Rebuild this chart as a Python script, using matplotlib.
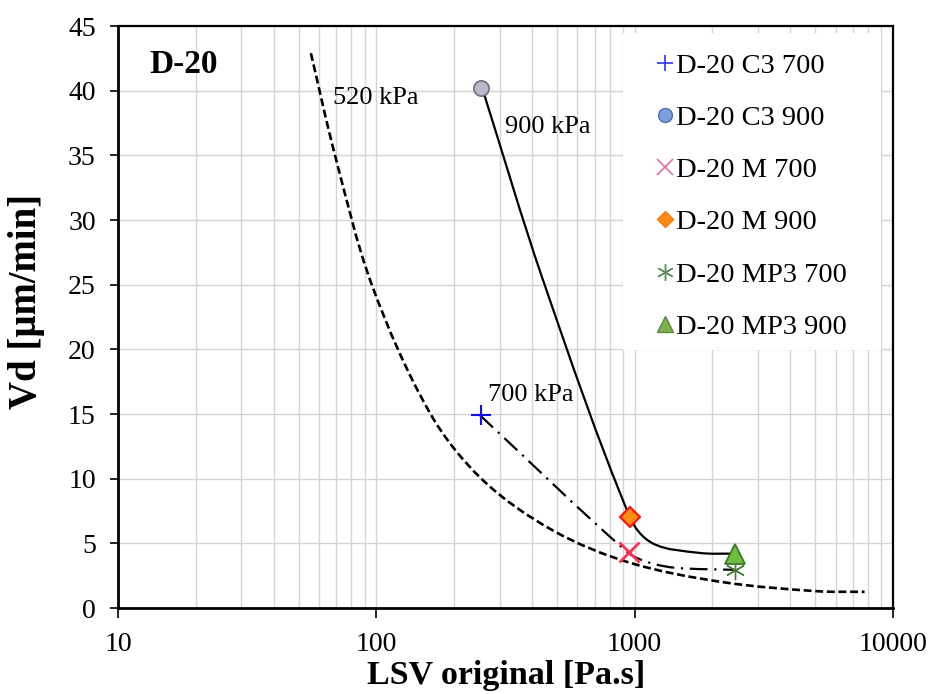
import numpy as np
import matplotlib
matplotlib.use('Agg')
import matplotlib.pyplot as plt
from matplotlib.path import Path
from matplotlib.patches import PathPatch, Rectangle
from matplotlib.lines import Line2D
from matplotlib.ticker import LogLocator, FixedLocator, NullFormatter, FixedFormatter

# ---- data ----
series_labels = ['D-20 C3 700', 'D-20 C3 900', 'D-20 M 700',
                 'D-20 M 900', 'D-20 MP3 700', 'D-20 MP3 900']
series_x = [255, 255, 950, 955, 2450, 2450]
series_y = [14.9, 40.2, 4.3, 7.05, 2.9, 4.2]

# 520 kPa curve
c520_x = [55.8, 69.0, 96.0, 161, 258, 482, 958, 2193, 5070, 7760]
c520_y = [42.9, 35.1, 25.0, 15.1, 9.9, 6.0, 3.5, 2.0, 1.3, 1.25]
# 900 kPa curve
c900_x = [256, 441, 957, 1174, 1784, 2436]
c900_y = [40.3, 25.4, 7.05, 5.0, 4.26, 4.2]
# 700 kPa curve
c700_x = [252, 940, 1143, 1456, 2436]
c700_y = [14.9, 4.3, 3.5, 3.1, 2.95]

x_ticks = [10, 100, 1000, 10000]
x_ticklabels = ['10', '100', '1000', '10000']
y_ticks = [0, 5, 10, 15, 20, 25, 30, 35, 40, 45]

plt.rcParams['font.family'] = ['Liberation Serif', 'DejaVu Serif']

fig = plt.figure(figsize=(9.32, 6.94), dpi=100)
ax = fig.add_axes([118/932, 1-608/694, 775/932, 582/694])
ax.set_xscale('log')
ax.set_xlim(10, 10000)
ax.set_ylim(0, 45)

# approximate screen scale (px per decade, px per unit) used only for smoothing
SX, SY = 258.3, 12.9


def smooth_path(xs, ys):
    """Smoothed line through the points (cubic Bezier, chord-scaled tangents)."""
    P = np.column_stack([np.log10(np.asarray(xs, float)) * SX,
                         np.asarray(ys, float) * SY])
    n = len(P)
    T = []
    for i in range(n):
        a = P[max(i - 1, 0)]
        b = P[min(i + 1, n - 1)]
        d = b - a
        T.append(d / np.linalg.norm(d))
    verts = [P[0]]
    codes = [Path.MOVETO]
    for i in range(n - 1):
        L = np.linalg.norm(P[i + 1] - P[i]) / 3.0
        c1 = P[i] + T[i] * L
        c2 = P[i + 1] - T[i + 1] * L
        verts += [c1, c2, P[i + 1]]
        codes += [Path.CURVE4] * 3
    V = np.array(verts)
    V[:, 0] = 10 ** (V[:, 0] / SX)
    V[:, 1] = V[:, 1] / SY
    return Path(V, codes)


ax.add_patch(PathPatch(smooth_path(c520_x, c520_y), fill=False, edgecolor='black',
                       lw=1.9, linestyle=(0, (3, 1.4)), zorder=3))
ax.add_patch(PathPatch(smooth_path(c900_x, c900_y), fill=False, edgecolor='black',
                       lw=1.6, linestyle='-', zorder=3))
ax.add_patch(PathPatch(smooth_path(c700_x, c700_y), fill=False, edgecolor='black',
                       lw=1.6, linestyle=(0, (8, 3, 1, 3)), zorder=3))

styles = [
    dict(marker='+', color='#1010ff', ms=15, mew=1.5),
    dict(marker='o', mfc='#b8b8cc', mec='#707070', ms=11, mew=1.2),
    dict(marker='x', color='#ff3050', ms=14, mew=2),
    dict(marker='D', mfc='#ff8c10', mec='#ff1010', ms=10, mew=1.5),
    dict(marker=(6, 2, 0), color='#4a7a3a', ms=14, mew=1),
    dict(marker='^', mfc='#6fbf3f', mec='#3a7a2a', ms=14, mew=1.3),
]
for xi, yi, st in zip(series_x, series_y, styles):
    ax.plot([xi], [yi], linestyle='none', zorder=5, **st)

# white background of the legend area (hides the grid as in the original)
ax.add_patch(Rectangle((0.651, 0.443), 0.333, 0.545, transform=ax.transAxes,
                       facecolor='white', edgecolor='none', zorder=1))

leg_styles = [
    dict(marker='+', color='#3030ff', ms=12, mew=1.2),
    dict(marker='o', mfc='#7f9fd8', mec='#4f6fb0', ms=10, mew=1),
    dict(marker='x', color='#e07090', ms=11, mew=1.2),
    dict(marker='D', mfc='#ff8c10', mec='#ff7010', ms=8, mew=1),
    dict(marker=(6, 2, 0), color='#5a8a5a', ms=12, mew=1),
    dict(marker='^', mfc='#7fb050', mec='#5a8a3a', ms=11, mew=1),
]
handles = [Line2D([], [], linestyle='none', **st) for st in leg_styles]
leg = ax.legend(handles, series_labels, loc='upper right', bbox_to_anchor=(0.972, 0.995),
                fontsize=20.5, frameon=False, handlelength=0.7, handletextpad=0.05,
                labelspacing=0.92, borderpad=0.35)
leg.set_zorder(6)

# annotations
ax.text(13.2, 42.0, 'D-20', fontsize=24, fontweight='bold', va='center', ha='left')
ax.text(67.9, 39.4, '520 kPa', fontsize=19, va='center', ha='left')
ax.text(315, 37.2, '900 kPa', fontsize=19, va='center', ha='left')
ax.text(271, 16.5, '700 kPa', fontsize=19, va='center', ha='left')

# axes styling
ax.xaxis.set_major_locator(FixedLocator(x_ticks))
ax.xaxis.set_major_formatter(FixedFormatter(x_ticklabels))
ax.xaxis.set_minor_locator(LogLocator(base=10, subs=np.arange(2, 10), numticks=20))
ax.xaxis.set_minor_formatter(NullFormatter())
ax.yaxis.set_major_locator(FixedLocator(y_ticks))
ax.grid(True, which='major', color='#d4d4d4', lw=1.0, zorder=0)
ax.grid(True, which='minor', axis='x', color='#d4d4d4', lw=1.0, zorder=0)
ax.set_axisbelow(True)
ax.tick_params(axis='x', which='major', direction='out', length=7, width=1.2,
               labelsize=20, pad=10)
ax.tick_params(axis='x', which='minor', length=0)
ax.tick_params(axis='y', which='major', direction='out', length=6, width=1.2,
               labelsize=20, pad=10)
for s in ['left', 'bottom']:
    ax.spines[s].set_linewidth(2.0)
for s in ['top', 'right']:
    ax.spines[s].set_linewidth(1.6)

ax.set_xlabel('LSV original [Pa.s]', fontsize=24.5, fontweight='bold')
ax.set_ylabel('Vd [μm/min]', fontsize=28, fontweight='bold')
ax.xaxis.set_label_coords(0.501, -0.09)
ax.yaxis.set_label_coords(-0.094, 0.527)

fig.savefig('out.png', dpi=100)
